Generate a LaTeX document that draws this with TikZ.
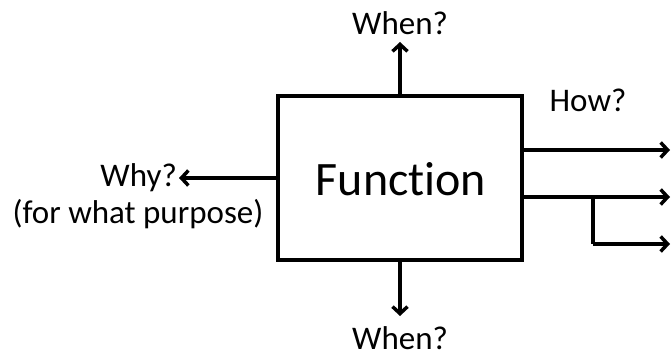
\documentclass[tikz,border=0pt]{standalone}
\usepackage{fontspec}
\setmainfont{Carlito}[Ligatures=NoCommon]
\usetikzlibrary{arrows.meta}
\tikzset{
  arr/.style={line width=3.5pt,-{Straight Barb[length=7pt,width=15pt,line width=3.5pt]}},
  conn/.style={line width=3.5pt},
  lbl/.style={inner sep=0pt,font=\fontsize{33}{39}\selectfont},
  fnbox/.style={draw,line width=3.5pt,minimum width=244pt,minimum height=164pt,inner sep=0pt}
}
\begin{document}
\begin{tikzpicture}[x=1pt,y=-1pt]
\useasboundingbox (0,0) rectangle (671,358);
\node[fnbox] (fn) at (400,178) {};
\node[inner sep=0pt,font=\fontsize{48}{56}\selectfont,anchor=base] (fntext) at (401,195) {Function};
\coordinate (tup) at (400,42);
\coordinate (tdn) at (400,316);
\coordinate (tlf) at (179,178);
\coordinate (r1) at (670,150);
\coordinate (r2) at (670,197);
\coordinate (r3) at (670,244);
\coordinate (br) at (593,197);
\draw[arr] (fn.north) -- (tup);
\draw[arr] (fn.south) -- (tdn);
\draw[arr] (fn.west) -- (tlf);
\draw[arr] (r1 -| fn.east) -- (r1);
\draw[arr] (r2 -| fn.east) -- (r2);
\draw[conn] (br) -- (br |- r3);
\draw[arr] (br |- r3) -- (r3);
\node[lbl,anchor=base] (w1) at (400,35) {When?};
\node[lbl,anchor=base] (w2) at (400,349) {When?};
\node[lbl,anchor=base] (how) at (588,112) {How?};
\node[lbl,anchor=base east] (why) at (177,186) {Why?};
\node[lbl,anchor=base] (purp) at (138,223) {(for what purpose)};
\end{tikzpicture}
\end{document}
